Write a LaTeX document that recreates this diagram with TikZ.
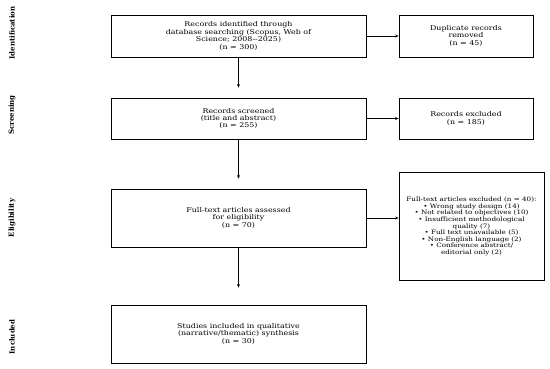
\documentclass[tikz,border=0pt]{standalone}
\usepackage{fontspec}
\setmainfont{DejaVu Serif}
\newfontfamily\widefont[FakeStretch=1.2]{DejaVu Serif}
\usetikzlibrary{arrows.meta}
\begin{document}
\begin{tikzpicture}[x=1pt,y=-1pt,
  box/.style={draw=black, line width=0.8pt, align=center, font=\widefont\fontsize{6.6}{7.4}\selectfont, inner sep=1pt},
  mainbox/.style={box, minimum width=255pt},
  sidebox/.style={box},
  stage/.style={rotate=90, font=\bfseries\fontsize{7}{8}\selectfont},
  arr/.style={-{Stealth[length=3.5pt,width=3pt]}, line width=0.8pt}]
\useasboundingbox (0,0) rectangle (550,369);
\node[mainbox, minimum height=42pt] (b1) at (238.5,36) {Records identified through\\database searching (Scopus, Web of\\Science; 2008--2025)\\(n = 300)};
\node[sidebox, minimum width=134pt, minimum height=42pt] (d1) at (466,36) {Duplicate records\\removed\\(n = 45)};
\node[mainbox, minimum height=41pt] (b2) at (238.5,118.5) {Records screened\\(title and abstract)\\(n = 255)};
\node[sidebox, minimum width=134pt, minimum height=41pt] (d2) at (466,118.5) {Records excluded\\(n = 185)};
\node[mainbox, minimum height=58pt] (b3) at (238.5,218) {Full-text articles assessed\\for eligibility\\(n = 70)};
\node[sidebox, minimum width=145pt, minimum height=108pt, font=\widefont\fontsize{6}{6.6}\selectfont] (d3) at (471.5,226.5) {Full-text articles excluded (n = 40):\\• Wrong study design (14)\\• Not related to objectives (10)\\• Insufficient methodological\\quality (7)\\• Full text unavailable (5)\\• Non-English language (2)\\• Conference abstract/\\editorial only (2)};
\node[mainbox, minimum height=58pt] (b4) at (238.5,334) {Studies included in qualitative\\(narrative/thematic) synthesis\\(n = 30)};
\node[stage] (s1) at (12,33) {Identification};
\node[stage] (s2) at (12,115) {Screening};
\node[stage] (s3) at (12,218) {Eligibility};
\node[stage] (s4) at (12,337) {Included};
\draw[arr, shorten >=10pt] (b1) -- (b2);
\draw[arr, shorten >=10pt] (b2) -- (b3);
\draw[arr, shorten >=17pt] (b3) -- (b4);
\draw[arr] (b1) -- (d1);
\draw[arr] (b2) -- (d2);
\draw[arr] (b3.east) -- (b3.east -| d3.west);
\end{tikzpicture}
\end{document}
